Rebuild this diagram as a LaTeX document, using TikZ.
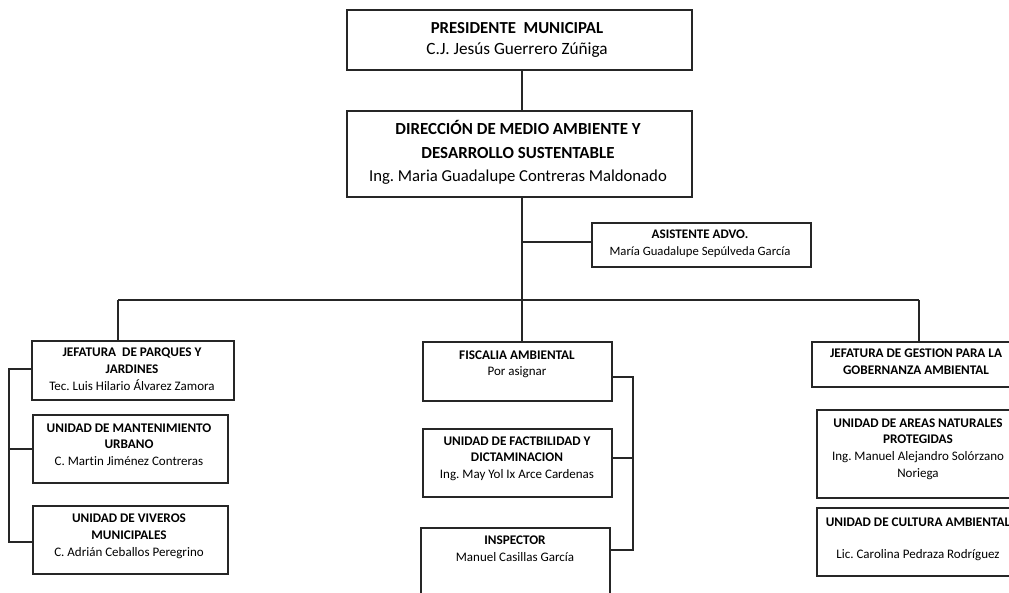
\documentclass[tikz,border=0pt]{standalone}
\usepackage{fontspec}
\setmainfont[Ligatures={NoCommon}]{Carlito}
\frenchspacing
\usetikzlibrary{fit}
\tikzset{
  box/.style={draw=black!85, line width=1.2pt, inner sep=0pt, fill=none},
  conn/.style={draw=black!85, line width=1.2pt},
  tbig/.style={font=\fontsize{16.8}{18}\selectfont\bfseries, inner sep=0pt, anchor=base},
  tbign/.style={font=\fontsize{17.2}{18}\selectfont, inner sep=0pt, anchor=base},
  tmid/.style={font=\fontsize{16.9}{18}\selectfont\bfseries, inner sep=0pt, anchor=base},
  tmidn/.style={font=\fontsize{16.7}{18}\selectfont, inner sep=0pt, anchor=base},
  tas/.style={font=\fontsize{13.1}{14}\selectfont\bfseries, inner sep=0pt, anchor=base},
  tasn/.style={font=\fontsize{12.7}{14}\selectfont, inner sep=0pt, anchor=base},
  tb/.style={font=\fontsize{13.2}{14}\selectfont\bfseries, inner sep=0pt, anchor=base},
  tn/.style={font=\fontsize{13}{14}\selectfont, inner sep=0pt, anchor=base},
}
\newcommand{\bx}[5]{\node[box, fit={(#2,#3) (#4,#5)}] (#1) {};}
\newcommand{\tl}[5]{\node[#4] (#1) at (#2,#3) {#5};}
\begin{document}
\begin{tikzpicture}[x=1pt,y=-1pt]
\fill[white] (0,0) rectangle (1009,592);
\useasboundingbox (0,0) rectangle (1009,592);
\clip (0,0) rectangle (1009,592);

% boxes
\bx{pres}{347}{10}{692}{70}
\bx{dir}{347}{111}{692}{197}
\bx{asis}{592}{223}{811}{267}
\bx{jp}{32}{341}{234}{400}
\bx{man}{33}{415}{228}{483}
\bx{viv}{33}{506}{228}{574}
\bx{fis}{423}{342}{612}{401}
\bx{fac}{423}{429}{612}{497}
\bx{ins}{421}{528}{610}{610}
\bx{jg}{812}{342}{1020}{387}
\bx{ana}{817}{410}{1020}{498}
\bx{cul}{817}{508}{1020}{576}

% connector points
\coordinate (trunk) at (522,0);
\coordinate (bar) at (0,300);
\coordinate (lb) at (9,0);
\coordinate (rb) at (633,0);

\draw[conn] (pres.south -| trunk) -- (dir.north -| trunk);
\draw[conn] (dir.south -| trunk) -- (trunk |- bar);
\draw[conn] (522,242) -- (asis.west |- 0,242);
\draw[conn] (118,300) -- (919,300);
\draw[conn] (118,300) -- (jp.north -| 118,0);
\draw[conn] (trunk |- bar) -- (fis.north -| trunk);
\draw[conn] (919,300) -- (jg.north -| 919,0);
% left bracket
\draw[conn] (jp.west |- 0,369) -| (lb |- 0,542) -- (viv.west |- 0,542);
\draw[conn] (lb |- 0,449) -- (man.west |- 0,449);
% right bracket
\draw[conn] (fis.east |- 0,377) -| (rb |- 0,550) -- (ins.east |- 0,550);
\draw[conn] (fac.east |- 0,458) -- (rb |- 0,458);

% texts
\tl{presA}{517}{33}{tbig}{PRESIDENTE\ \ MUNICIPAL}
\tl{presB}{517}{54}{tbign}{C.J. Jesús Guerrero Zúñiga}
\tl{dirA}{518}{134}{tmid}{DIRECCIÓN DE MEDIO AMBIENTE Y}
\tl{dirB}{518}{158}{tmid}{DESARROLLO SUSTENTABLE}
\tl{dirC}{518}{181}{tmidn}{Ing. Maria Guadalupe Contreras Maldonado}
\tl{asisA}{700}{238}{tas}{ASISTENTE ADVO.}
\tl{asisB}{700}{255}{tasn}{María Guadalupe Sepúlveda García}

\tl{jpA}{132}{356}{tb}{JEFATURA\ \ DE PARQUES Y}
\tl{jpB}{132}{373}{tb}{JARDINES}
\tl{jpC}{132}{390}{tn}{Tec. Luis Hilario Álvarez Zamora}
\tl{manA}{129}{432}{tb}{UNIDAD DE MANTENIMIENTO}
\tl{manB}{129}{448}{tb}{URBANO}
\tl{manC}{129}{465}{tn}{C. Martin Jiménez Contreras}
\tl{vivA}{129}{522}{tb}{UNIDAD DE VIVEROS}
\tl{vivB}{129}{539}{tb}{MUNICIPALES}
\tl{vivC}{129}{556}{tn}{C. Adrián Ceballos Peregrino}

\tl{fisA}{517}{359}{tb}{FISCALIA AMBIENTAL}
\tl{fisB}{517}{375}{tn}{Por asignar}
\tl{facA}{517}{445}{tb}{UNIDAD DE FACTBILIDAD Y}
\tl{facB}{517}{461}{tb}{DICTAMINACION}
\tl{facC}{517}{478}{tn}{Ing. May Yol Ix Arce Cardenas}
\tl{insA}{515}{544}{tb}{INSPECTOR}
\tl{insB}{515}{561}{tn}{Manuel Casillas García}

\tl{jgA}{916}{357}{tb}{JEFATURA DE GESTION PARA LA}
\tl{jgB}{916}{374}{tb}{GOBERNANZA AMBIENTAL}
\tl{anaA}{918}{427}{tb}{UNIDAD DE AREAS NATURALES}
\tl{anaB}{918}{443}{tb}{PROTEGIDAS}
\tl{anaC}{918}{460}{tn}{Ing. Manuel Alejandro Solórzano}
\tl{anaD}{918}{477}{tn}{Noriega}
\tl{culA}{918}{526}{tb}{UNIDAD DE CULTURA AMBIENTAL}
\tl{culB}{918}{558}{tn}{Lic. Carolina Pedraza Rodríguez}
\end{tikzpicture}
\end{document}
